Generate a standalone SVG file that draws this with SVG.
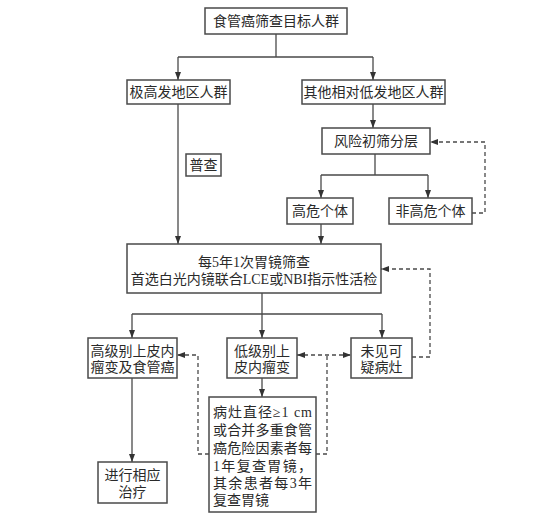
<svg xmlns="http://www.w3.org/2000/svg" width="545" height="527" viewBox="0 0 545 527">
<style>
.b{fill:#fff;stroke:#4a4a4a;stroke-width:1.5}
text{font-family:"Liberation Serif","Noto Sans CJK SC",serif;font-size:14px;fill:#2a2a2a;text-anchor:middle;dominant-baseline:central}
text.j{text-anchor:start}
.l{stroke:#4a4a4a;stroke-width:1.3;fill:none}
.d{stroke-dasharray:4 3}
.a{marker-end:url(#ah)}
.s{marker-start:url(#ah)}
</style>
<defs>
<marker id="ah" markerUnits="userSpaceOnUse" markerWidth="8" markerHeight="6" refX="8" refY="3" orient="auto-start-reverse"><path d="M0,0 L8,3 L0,6 z" fill="#333"/></marker>
</defs>
<rect width="545" height="527" fill="#fff"/>
<g id="connectors">
<path class="l" d="M276,34 V57 M178,57 H373"/>
<path class="l a" d="M178,57 V80"/>
<path class="l a" d="M373,57 V80"/>
<path class="l a" d="M178,104 V244"/>
<path class="l a" d="M373,104 V128"/>
<path class="l" d="M375,154 V175 M321,175 H428"/>
<path class="l a" d="M321,175 V198"/>
<path class="l a" d="M428,175 V198"/>
<path class="l a" d="M321,224 V244"/>
<path class="l d a" d="M472,213 H485 V142 H430"/>
<path class="l" d="M262,293 V314 M132,314 H382"/>
<path class="l a" d="M132,314 V338"/>
<path class="l a" d="M262,314 V338"/>
<path class="l a" d="M382,314 V338"/>
<path class="l a" d="M132,378 V462"/>
<path class="l a" d="M262,378 V397"/>
<path class="l d a" d="M209,454 H198 V355 H177"/>
<path class="l d a s" d="M297,355 H351"/>
<path class="l d" d="M316,454 H327 V355"/>
<path class="l d a" d="M412,357 H430 V269 H381"/>
</g>
<g id="n1"><rect class="b" x="205" y="8" width="142" height="26"/><text x="276" y="21">食管癌筛查目标人群</text></g>
<g id="n2"><rect class="b" x="127" y="80" width="103" height="24"/><text x="178.5" y="92">极高发地区人群</text></g>
<g id="n3"><rect class="b" x="302" y="80" width="143" height="24"/><text x="373.5" y="92">其他相对低发地区人群</text></g>
<g id="n4"><rect class="b" x="186" y="154" width="35" height="22"/><text x="203.5" y="165">普查</text></g>
<g id="n5"><rect class="b" x="322" y="128" width="108" height="26"/><text x="376" y="141">风险初筛分层</text></g>
<g id="n6"><rect class="b" x="287" y="198" width="66" height="26"/><text x="320" y="211">高危个体</text></g>
<g id="n7"><rect class="b" x="389" y="198" width="83" height="26"/><text x="430.5" y="211">非高危个体</text></g>
<g id="n8"><rect class="b" x="127" y="244" width="254" height="49"/><text x="254" y="262">每5年1次胃镜筛查</text><text x="254" y="279">首选白光内镜联合LCE或NBI指示性活检</text></g>
<g id="n9"><rect class="b" x="88" y="338" width="89" height="40"/><text x="132.5" y="351">高级别上皮内</text><text x="132.5" y="367">瘤变及食管癌</text></g>
<g id="n10"><rect class="b" x="227" y="338" width="70" height="40"/><text x="262" y="351">低级别上</text><text x="262" y="367">皮内瘤变</text></g>
<g id="n11"><rect class="b" x="351" y="338" width="61" height="40"/><text x="381.5" y="351">未见可</text><text x="381.5" y="367">疑病灶</text></g>
<g id="n12"><rect class="b" x="98" y="462" width="69" height="41"/><text x="132.5" y="475">进行相应</text><text x="132.5" y="492">治疗</text></g>
<g id="n13"><rect class="b" x="209" y="397" width="107" height="115"/>
<text class="j" x="213" y="412" textLength="99" lengthAdjust="spacing">病灶直径≥1 cm</text>
<text class="j" x="213" y="430" textLength="99" lengthAdjust="spacing">或合并多重食管</text>
<text class="j" x="213" y="448" textLength="99" lengthAdjust="spacing">癌危险因素者每</text>
<text class="j" x="213" y="466" textLength="99" lengthAdjust="spacing">1年复查胃镜，</text>
<text class="j" x="213" y="483" textLength="99" lengthAdjust="spacing">其余患者每3年</text>
<text class="j" x="213" y="500">复查胃镜</text>
</g>
</svg>
